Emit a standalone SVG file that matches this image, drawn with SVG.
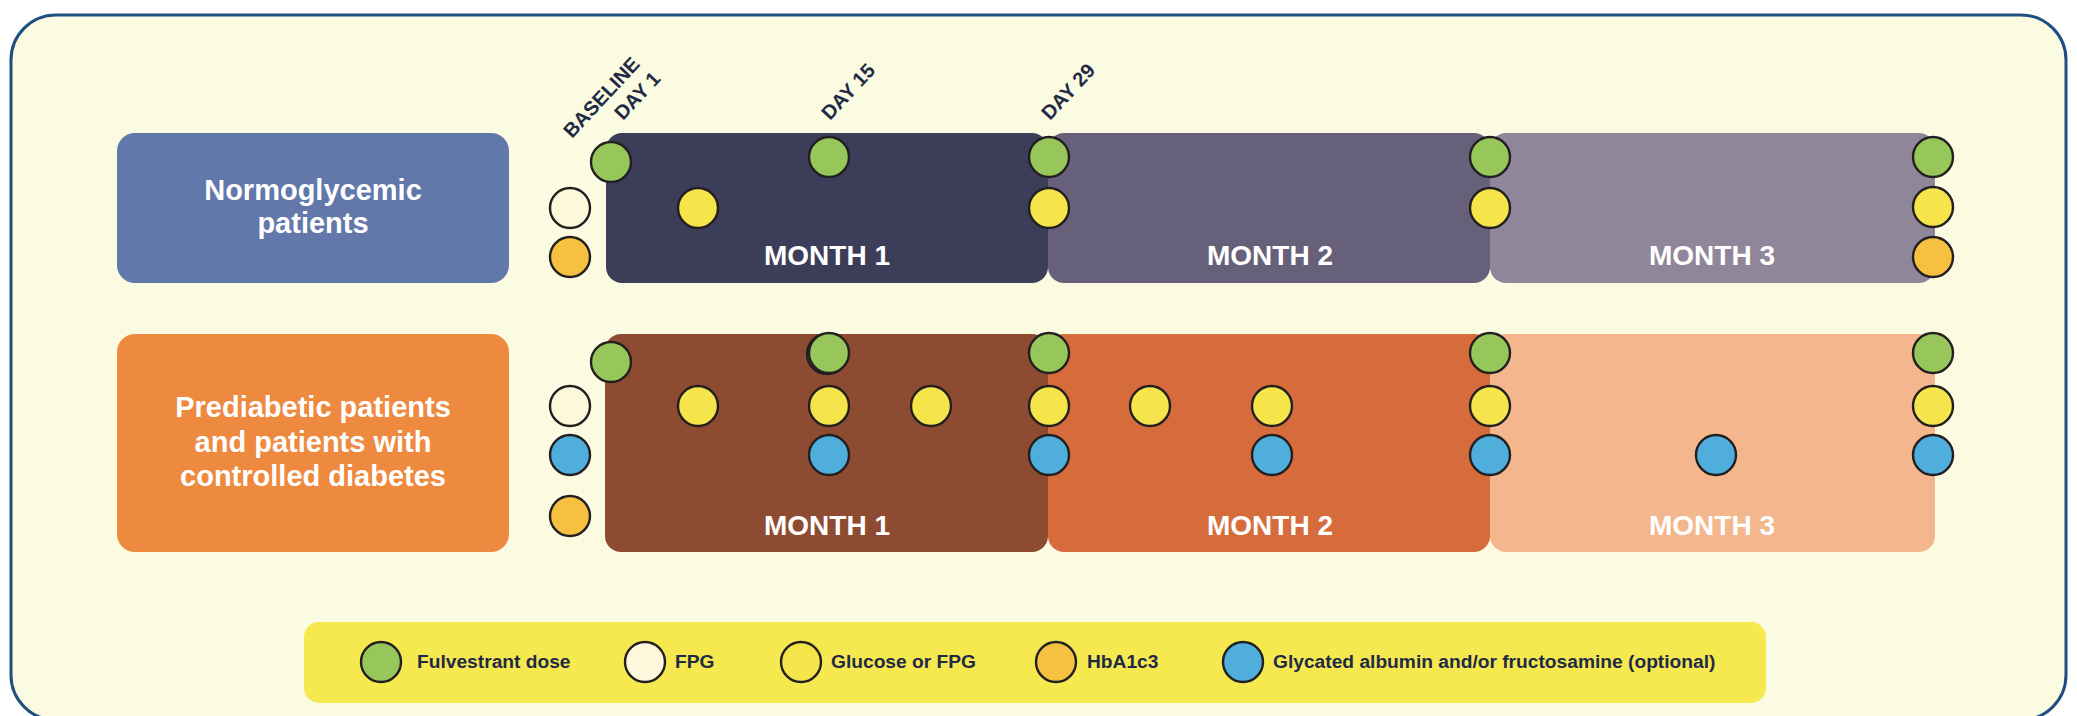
<svg xmlns="http://www.w3.org/2000/svg" width="2077" height="716" viewBox="0 0 2077 716">
<style>
.lbl{font-family:"Liberation Sans",Arial,sans-serif;font-weight:bold;fill:#ffffff;text-anchor:middle;font-size:28px}
.big{font-size:29px}
.day{font-family:"Liberation Sans",Arial,sans-serif;font-weight:bold;fill:#1f2b45;font-size:20px}
.leg{font-family:"Liberation Sans",Arial,sans-serif;font-weight:bold;fill:#1f2b45;font-size:19.2px}
.dot{stroke:#231f20;stroke-width:2.4}
.g{fill:#97c75b}.y{fill:#f5e54b}.c{fill:#fdf7dc}.o{fill:#f6c040}.b{fill:#4faedc}
</style>
<rect x="0" y="0" width="2077" height="716" fill="#ffffff"/>
<rect id="frame" x="11" y="15" width="2055" height="705" rx="45" fill="#fbfbe2" stroke="#1f4e80" stroke-width="3"/>

<g id="row1-label">
<rect x="117" y="133" width="392" height="150" rx="18" fill="#6378aa"/>
<text class="lbl big" x="313" y="200">Normoglycemic</text>
<text class="lbl big" x="313" y="233">patients</text>
</g>

<g id="row1-months">
<rect x="606" y="133" width="442" height="150" rx="16" fill="#3c3d58"/>
<rect x="1048" y="133" width="442" height="150" rx="16" fill="#66607a"/>
<rect x="1490" y="133" width="445" height="150" rx="16" fill="#8f8799"/>
<text class="lbl" x="827" y="265">MONTH 1</text>
<text class="lbl" x="1270" y="265">MONTH 2</text>
<text class="lbl" x="1712" y="265">MONTH 3</text>
</g>

<g id="row2-label">
<rect x="117" y="334" width="392" height="218" rx="18" fill="#ee8a40"/>
<text class="lbl big" x="313" y="417">Prediabetic patients</text>
<text class="lbl big" x="313" y="452">and patients with</text>
<text class="lbl big" x="313" y="486">controlled diabetes</text>
</g>

<g id="row2-months">
<rect x="605" y="334" width="443" height="218" rx="16" fill="#8d4c32"/>
<rect x="1048" y="334" width="442" height="218" rx="16" fill="#d66c3c"/>
<rect x="1490" y="334" width="445" height="218" rx="16" fill="#f4b68c"/>
<text class="lbl" x="827" y="535">MONTH 1</text>
<text class="lbl" x="1270" y="535">MONTH 2</text>
<text class="lbl" x="1712" y="535">MONTH 3</text>
</g>

<g id="day-labels">
<text class="day" transform="translate(572,139) rotate(-47)">BASELINE</text>
<text class="day" transform="translate(623,121) rotate(-47)">DAY 1</text>
<text class="day" transform="translate(830,121) rotate(-47)">DAY 15</text>
<text class="day" transform="translate(1050,121) rotate(-47)">DAY 29</text>
</g>

<g id="row1-dots">
<circle class="dot c" cx="570" cy="208" r="20"/>
<circle class="dot o" cx="570" cy="257" r="20"/>
<circle class="dot g" cx="611" cy="162" r="20"/>
<circle class="dot y" cx="698" cy="208" r="20"/>
<circle class="dot g" cx="829" cy="157" r="20"/>
<circle class="dot g" cx="1049" cy="157" r="20"/>
<circle class="dot y" cx="1049" cy="208" r="20"/>
<circle class="dot g" cx="1490" cy="157" r="20"/>
<circle class="dot y" cx="1490" cy="208" r="20"/>
<circle class="dot g" cx="1933" cy="157" r="20"/>
<circle class="dot y" cx="1933" cy="207" r="20"/>
<circle class="dot o" cx="1933" cy="257" r="20"/>
</g>

<g id="row2-dots">
<circle class="dot c" cx="570" cy="406" r="20"/>
<circle class="dot b" cx="570" cy="455" r="20"/>
<circle class="dot o" cx="570" cy="516" r="20"/>
<circle class="dot g" cx="611" cy="362" r="20"/>
<circle class="dot y" cx="698" cy="406" r="20"/>
<circle class="dot g" cx="827" cy="354" r="20"/>
<circle class="dot g" cx="829" cy="353" r="20"/>
<circle class="dot y" cx="829" cy="406" r="20"/>
<circle class="dot b" cx="829" cy="455" r="20"/>
<circle class="dot y" cx="931" cy="406" r="20"/>
<circle class="dot g" cx="1049" cy="353" r="20"/>
<circle class="dot y" cx="1049" cy="406" r="20"/>
<circle class="dot b" cx="1049" cy="455" r="20"/>
<circle class="dot y" cx="1150" cy="406" r="20"/>
<circle class="dot y" cx="1272" cy="406" r="20"/>
<circle class="dot b" cx="1272" cy="455" r="20"/>
<circle class="dot g" cx="1490" cy="353" r="20"/>
<circle class="dot y" cx="1490" cy="406" r="20"/>
<circle class="dot b" cx="1490" cy="455" r="20"/>
<circle class="dot b" cx="1716" cy="455" r="20"/>
<circle class="dot g" cx="1933" cy="353" r="20"/>
<circle class="dot y" cx="1933" cy="406" r="20"/>
<circle class="dot b" cx="1933" cy="455" r="20"/>
</g>

<g id="legend">
<rect x="304" y="622" width="1462" height="81" rx="15" fill="#f5e94f"/>
<circle class="dot g" cx="381" cy="662" r="20"/>
<text class="leg" x="417" y="668">Fulvestrant dose</text>
<circle class="dot c" cx="645" cy="662" r="20"/>
<text class="leg" x="675" y="668">FPG</text>
<circle class="dot y" cx="801" cy="662" r="20"/>
<text class="leg" x="831" y="668">Glucose or FPG</text>
<circle class="dot o" cx="1056" cy="662" r="20"/>
<text class="leg" x="1087" y="668">HbA1c3</text>
<circle class="dot b" cx="1243" cy="662" r="20"/>
<text class="leg" x="1273" y="668">Glycated albumin and/or fructosamine (optional)</text>
</g>
</svg>
